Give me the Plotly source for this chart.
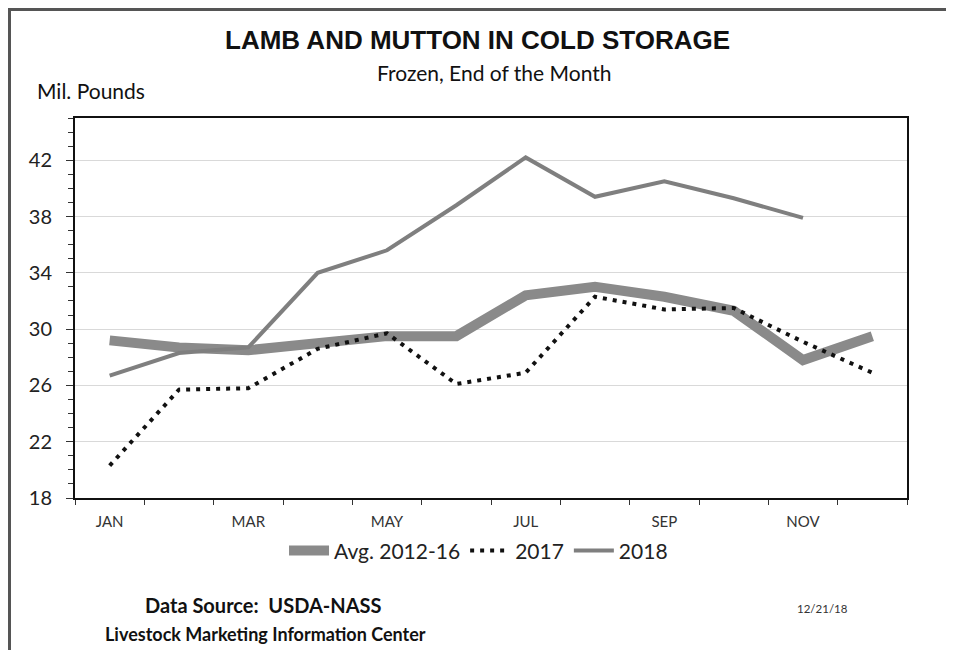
import plotly.graph_objects as go

months = ["JAN", "FEB", "MAR", "APR", "MAY", "JUN", "JUL", "AUG", "SEP", "OCT", "NOV", "DEC"]
tick_labels = ["JAN", "MAR", "MAY", "JUL", "SEP", "NOV"]
avg_2012_16 = [29.2, 28.7, 28.5, 29.0, 29.5, 29.5, 32.4, 33.0, 32.3, 31.3, 27.8, 29.5]
y2017 = [20.3, 25.7, 25.8, 28.6, 29.7, 26.1, 26.9, 32.3, 31.4, 31.5, 29.1, 26.9]
y2018 = [26.7, 28.3, 28.7, 34.0, 35.6, 38.8, 42.2, 39.4, 40.5, 39.3, 37.9, None]
y_ticks = [18, 22, 26, 30, 34, 38, 42]

xi = list(range(len(months)))
tick_pos = [months.index(m) for m in tick_labels]

fig = go.Figure()
fig.add_trace(go.Scatter(x=xi, y=avg_2012_16, mode="lines", name="Avg. 2012-16",
                         line=dict(color="#8a8a8a", width=10)))
fig.add_trace(go.Scatter(x=xi, y=y2017, mode="lines", name="2017",
                         line=dict(color="#111111", width=4, dash="4px,6px")))
fig.add_trace(go.Scatter(x=xi, y=y2018, mode="lines", name="2018",
                         line=dict(color="#7f7f7f", width=4)))

# page offset of 8px (body margin) is compensated in the margins
fig.update_layout(
    width=954, height=650,
    margin=dict(l=67, r=55, t=110, b=160),
    paper_bgcolor="white", plot_bgcolor="white",
    showlegend=True,
    legend=dict(orientation="h", x=0.485, xanchor="center", y=-0.085, yanchor="top",
                font=dict(family="Lato", size=21, color="#222222"),
                itemwidth=40, tracegroupgap=0),
    font=dict(family="Lato", color="#222222"),
)
fig.update_xaxes(
    range=[-0.5, 11.5], tickmode="array", tickvals=tick_pos, ticktext=tick_labels,
    ticks="outside", ticklen=9, tickcolor="rgba(0,0,0,0)",
    tickfont=dict(family="Lato", size=15, color="#333333"),
    showgrid=False, zeroline=False,
    showline=True, linecolor="#111111", linewidth=2, mirror=True,
    minor=dict(tickmode="linear", tick0=-0.5, dtick=1, ticks="outside", ticklen=5,
               tickcolor="#333333", showgrid=False),
)
fig.update_yaxes(
    range=[18, 45], tickmode="array", tickvals=y_ticks,
    ticks="outside", ticklen=7, tickcolor="#333333",
    tickfont=dict(family="Lato", size=20, color="#222222"),
    ticklabelstandoff=10,
    showgrid=True, gridcolor="#d9d9d9", gridwidth=1, zeroline=False,
    showline=True, linecolor="#111111", linewidth=2, mirror=True,
    minor=dict(tickmode="linear", tick0=18, dtick=1, ticks="outside", ticklen=5,
               tickcolor="#333333", showgrid=False),
)

# outer frame
fig.add_shape(type="rect", xref="paper", yref="paper",
              x0=(9.5 - 75) / 832, x1=(951 - 75) / 832,
              y0=(498 - 660) / 380, y1=(498 - 9.5) / 380,
              line=dict(color="#555555", width=3), fillcolor="rgba(0,0,0,0)", layer="below")

def ann(text, x, y, size, family="Lato", bold=False, xanchor="center", color="#111111"):
    fig.add_annotation(text=("<b>%s</b>" % text) if bold else text,
                       xref="paper", yref="paper",
                       x=(x - 75) / 832, y=(498 - y) / 380,
                       xanchor=xanchor, yanchor="middle", showarrow=False,
                       font=dict(family=family, size=size, color=color))

ann("LAMB AND MUTTON IN COLD STORAGE", 477, 40, 26, family="Liberation Sans", bold=True)
ann("Frozen, End of the Month", 494, 72, 21)
ann("Mil. Pounds", 35, 90, 21, xanchor="left")
ann("Data Source:  USDA-NASS", 143, 605, 20, bold=True, xanchor="left")
ann("Livestock Marketing Information Center", 103, 634, 18, bold=True, xanchor="left")
ann("12/21/18", 795, 608, 11.5, xanchor="left", color="#333333")

fig.write_html("out.html")
